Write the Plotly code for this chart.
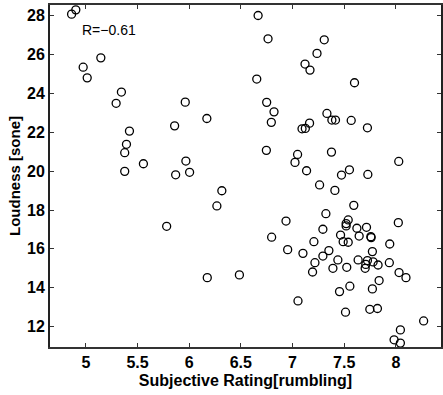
import plotly.graph_objects as go

rating = [4.862, 4.903, 5.145, 4.974, 5.013, 5.344, 5.293, 5.422, 5.393, 5.376,
          5.376, 5.557, 5.859, 5.962, 5.869, 5.968, 6.004, 6.171, 5.782, 6.268,
          6.175, 6.316, 6.667, 6.763, 7.307, 7.237, 7.121, 7.169, 6.654, 7.600,
          6.750, 6.821, 6.795, 7.333, 7.381, 7.416, 7.568, 7.165, 7.092, 7.124,
          7.725, 6.747, 7.049, 7.024, 7.377, 8.028, 7.136, 7.551, 7.474, 7.729,
          7.262, 7.410, 6.486, 6.798, 6.937, 6.953, 7.101, 7.053, 7.323, 7.593,
          7.294, 7.207, 7.352, 7.217, 7.294, 7.194, 7.439, 7.391, 7.519, 7.519,
          7.539, 7.465, 7.490, 7.539, 7.623, 7.645, 7.716, 7.761, 7.758, 8.024,
          7.941, 7.773, 7.635, 7.725, 7.780, 7.709, 7.703, 7.828, 7.937, 7.525,
          8.031, 8.098, 7.838, 7.555, 7.773, 7.455, 7.748, 7.822, 7.513, 8.269,
          8.044, 7.983, 8.044]
loudness = [28.08, 28.30, 25.83, 25.35, 24.80, 24.07, 23.49, 22.06, 21.38, 20.95,
            19.99, 20.38, 22.33, 23.55, 19.81, 20.52, 19.94, 22.71, 17.16, 18.21,
            14.52, 18.99, 28.01, 26.81, 26.76, 26.06, 25.51, 25.20, 24.74, 24.55,
            23.54, 23.05, 22.51, 22.97, 22.63, 22.63, 22.61, 22.47, 22.18, 22.20,
            22.23, 21.07, 20.86, 20.45, 20.98, 20.50, 20.02, 20.07, 19.80, 19.83,
            19.29, 19.01, 14.66, 16.60, 17.43, 15.96, 15.77, 13.32, 17.81, 18.24,
            17.01, 16.37, 15.91, 15.29, 15.63, 14.81, 15.43, 15.00, 17.18, 17.30,
            17.49, 16.71, 16.37, 16.34, 17.06, 16.66, 17.11, 16.58, 16.63, 17.35,
            16.25, 15.86, 15.43, 15.40, 15.33, 15.20, 15.00, 15.17, 15.29, 15.05,
            14.78, 14.52, 14.37, 14.08, 13.94, 13.80, 12.89, 12.93, 12.74, 12.29,
            11.83, 11.32, 11.15]

x_ticks = [5, 5.5, 6, 6.5, 7, 7.5, 8]
x_tick_labels = ["5", "5.5", "6", "6.5", "7", "7.5", "8"]
y_ticks = [12, 14, 16, 18, 20, 22, 24, 26, 28]
y_tick_labels = ["12", "14", "16", "18", "20", "22", "24", "26", "28"]
annotation_text = "R=\u22120.61"

fig = go.Figure()
fig.add_trace(go.Scatter(
    x=rating, y=loudness, mode="markers",
    marker=dict(symbol="circle-open", size=8, color="black", line=dict(width=1.3, color="black")),
    showlegend=False, cliponaxis=True,
))

font_fam = "Liberation Sans, Arial, sans-serif"
fig.update_layout(
    width=443, height=395,
    margin=dict(l=50, r=0, t=5, b=48),
    paper_bgcolor="white", plot_bgcolor="white",
    font=dict(family=font_fam, size=15, color="black"),
    xaxis=dict(
        range=[4.653, 8.437], tickvals=x_ticks, ticktext=x_tick_labels,
        ticks="inside", ticklen=4, tickwidth=1, tickcolor="#333",
        showline=True, linecolor="#333", linewidth=2, mirror="ticks",
        showgrid=False, zeroline=False,
        tickfont=dict(family=font_fam, size=16, weight="bold"),
        title=dict(text="Subjective Rating[rumbling]", standoff=5,
                   font=dict(family=font_fam, size=16, weight="bold")),
    ),
    yaxis=dict(
        range=[10.95, 28.55], tickvals=y_ticks, ticktext=y_tick_labels,
        ticks="inside", ticklen=4, tickwidth=1, tickcolor="#333",
        showline=True, linecolor="#222", linewidth=2, mirror="ticks",
        showgrid=False, zeroline=False,
        tickfont=dict(family=font_fam, size=16, weight="bold"),
        title=dict(text="Loudness [sone]", standoff=3,
                   font=dict(family=font_fam, size=15, weight="bold")),
    ),
    annotations=[dict(
        x=4.942, y=27.25, xref="x", yref="y", text=annotation_text,
        showarrow=False, xanchor="left", yanchor="middle",
        font=dict(family=font_fam, size=14, color="black", weight=500),
    )],
)

fig.write_html("out.html")
